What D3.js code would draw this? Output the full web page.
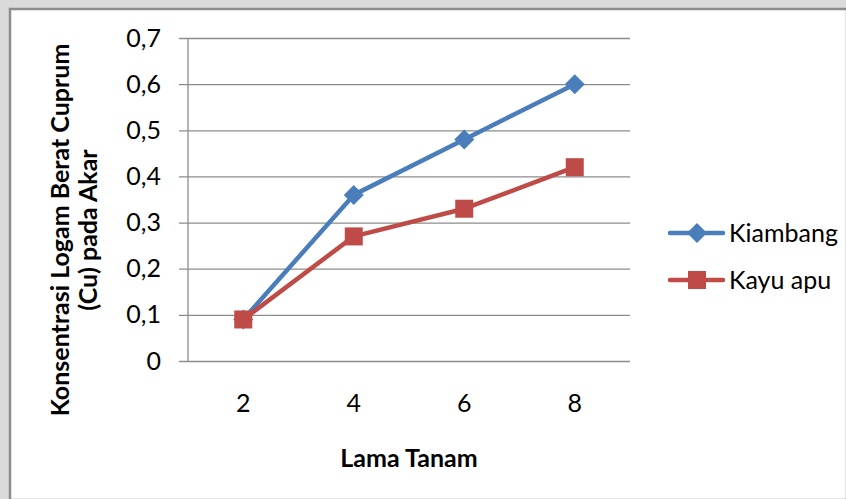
<!DOCTYPE html>
<html>
<head>
<meta charset="utf-8">
<script src="https://cdn.jsdelivr.net/npm/d3@7"></script>
<style>
  html, body { margin: 0; padding: 0; background: #dadada; }
  svg { display: block; font-family: Lato, "Open Sans", sans-serif; }
</style>
</head>
<body>
<svg id="chart" width="846" height="499"></svg>
<script>
// Planting duration (weeks) on the x axis
const categories = ["2", "4", "6", "8"];
// Cu concentration in roots for each plant
const kiambang = [0.09, 0.36, 0.48, 0.60];
const kayuApu = [0.09, 0.27, 0.33, 0.42];
const seriesNames = ["Kiambang", "Kayu apu"];
const yTicks = [0, 0.1, 0.2, 0.3, 0.4, 0.5, 0.6, 0.7];

const svg = d3.select("#chart");
const W = 846, H = 499;
const FS = 25;

// page background and chart frame
svg.append("rect").attr("width", W).attr("height", H).attr("fill", "#dadada");
svg.append("rect").attr("x", 10).attr("y", 9).attr("width", W - 9).attr("height", H - 8)
  .attr("fill", "#ffffff").attr("stroke", "#8c8c8c").attr("stroke-width", 2.5);

const plot = { left: 188, right: 630, top: 38, bottom: 361 };

const x = d3.scaleBand().domain(categories).range([plot.left, plot.right]);
const y = d3.scaleLinear().domain([0, 0.7]).range([plot.bottom, plot.top]);

const fmt = d => d3.format(".1f")(d).replace(".", ",");

// horizontal gridlines with tick marks via the y axis
const yAxis = d3.axisLeft(y).tickValues(yTicks)
  .tickFormat(d => d === 0 ? "0" : fmt(d))
  .tickSize(-(plot.right - plot.left)).tickPadding(27);
const gy = svg.append("g").attr("transform", `translate(${plot.left},0)`).call(yAxis);
gy.select(".domain").remove();
gy.selectAll(".tick line").attr("stroke", "#8c8c8c").attr("stroke-width", 1.3)
  .attr("x1", -9);
gy.selectAll(".tick text").attr("font-size", FS).attr("fill", "#000")
  .attr("font-family", "Lato, sans-serif");

// vertical axis line
svg.append("line").attr("x1", plot.left).attr("x2", plot.left)
  .attr("y1", plot.top).attr("y2", plot.bottom)
  .attr("stroke", "#8c8c8c").attr("stroke-width", 1.3);

// x axis labels
const xAxis = d3.axisBottom(x).tickSize(0).tickPadding(33);
const gx = svg.append("g").attr("transform", `translate(0,${plot.bottom})`).call(xAxis);
gx.select(".domain").remove();
gx.selectAll(".tick text").attr("font-size", FS).attr("fill", "#000")
  .attr("font-family", "Lato, sans-serif");

// axis titles
svg.append("text").attr("x", (plot.left + plot.right) / 2).attr("y", 467)
  .attr("text-anchor", "middle").attr("font-size", FS).attr("font-weight", "bold")
  .text("Lama Tanam");
const yt = svg.append("text").attr("transform", "translate(74,230) rotate(-90)")
  .attr("text-anchor", "middle").attr("font-size", FS).attr("font-weight", "bold");
yt.append("tspan").attr("x", 0).attr("dy", -5).text("Konsentrasi Logam Berat Cuprum");
yt.append("tspan").attr("x", 0).attr("dy", 28).text("(Cu) pada Akar");

const series = [
  { name: seriesNames[0], values: kiambang, color: "#4a7ebb", shape: "diamond" },
  { name: seriesNames[1], values: kayuApu, color: "#be4b48", shape: "square" }
];

const line = d3.line()
  .x((d, i) => x(categories[i]) + x.bandwidth() / 2)
  .y(d => y(d));

function marker(g, shape, color, cx, cy) {
  if (shape === "diamond") {
    g.append("path").attr("d", `M${cx},${cy - 10}L${cx + 10},${cy}L${cx},${cy + 10}L${cx - 10},${cy}Z`)
      .attr("fill", color);
  } else {
    g.append("rect").attr("x", cx - 9).attr("y", cy - 9).attr("width", 18).attr("height", 18)
      .attr("fill", color);
  }
}

series.forEach(s => {
  const g = svg.append("g");
  g.append("path").datum(s.values).attr("d", line).attr("fill", "none")
    .attr("stroke", s.color).attr("stroke-width", 4.5).attr("stroke-linejoin", "round")
    .attr("stroke-linecap", "round");
  s.values.forEach((v, i) => marker(g, s.shape, s.color, x(categories[i]) + x.bandwidth() / 2, y(v)));
});

// legend
series.forEach((s, i) => {
  const ly = 233 + i * 47;
  const g = svg.append("g");
  g.append("line").attr("x1", 670).attr("x2", 723).attr("y1", ly).attr("y2", ly)
    .attr("stroke", s.color).attr("stroke-width", 4.5).attr("stroke-linecap", "round");
  marker(g, s.shape, s.color, 697, ly);
  g.append("text").attr("x", 729).attr("y", ly).attr("dy", "0.35em")
    .attr("font-size", FS).attr("fill", "#000").text(s.name);
});
</script>
</body>
</html>
